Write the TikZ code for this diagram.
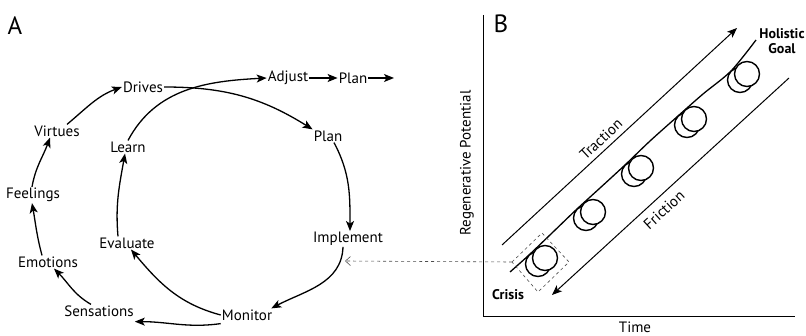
\documentclass[tikz,border=0pt]{standalone}
\usepackage{fontspec}
\setmainfont{PT Sans}
\usetikzlibrary{arrows.meta}
\begin{document}
\begin{tikzpicture}[x=1pt,y=-1pt,
  lbl/.style={font=\fontsize{15}{16}\selectfont, inner sep=1pt},
  blbl/.style={font=\fontsize{14}{15}\selectfont\bfseries, inner sep=1pt},
  big/.style={font=\fontsize{25}{26}\selectfont, inner sep=0pt},
  arr/.style={line width=1.3pt, -{Stealth[length=10pt,width=8pt,inset=2.5pt]}},
  thin/.style={line width=1pt},
  dsh/.style={line width=0.6pt, dash pattern=on 3pt off 3pt, draw=black!70},
  ball/.style={line width=1.4pt, fill=white}
]
\useasboundingbox (0,0) rectangle (806,336);

% ---------- Panel A ----------
\node[big] (A) at (15,26) {A};
\node[lbl] (drives) at (143,87) {Drives};
\node[lbl] (adjust) at (288,78) {Adjust};
\node[lbl] (plant) at (353,78) {Plan};
\coordinate (planend) at (394,78);
\node[lbl] (planr) at (328,136) {Plan};
\node[lbl] (impl) at (348,239) {Implement};
\node[lbl] (monitor) at (247,315) {Monitor};
\node[lbl] (sens) at (99,311) {Sensations};
\node[lbl] (emot) at (48,262) {Emotions};
\node[lbl] (feel) at (33,195) {Feelings};
\node[lbl] (virt) at (57,131) {Virtues};
\node[lbl] (learn) at (128,147) {Learn};
\node[lbl] (eval) at (127,243) {Evaluate};

\draw[arr] (drives.east) to[out=0,in=148] (planr.north west);
\draw[arr] (learn.north) to[out=62,in=183] (adjust.west);
\draw[arr] (adjust.east) -- (plant.west);
\draw[arr] (plant.east) -- (planend);
\draw[arr] ([xshift=6pt]planr.south) to[out=-62,in=90] ([xshift=2pt]impl.north);
\draw[arr] ([xshift=-5pt]impl.south) to[out=-92,in=28] ([xshift=-2pt]monitor.north east);
\draw[arr] (monitor.west) to[out=165,in=-50] ([xshift=4pt]eval.south);
\draw[arr] ([xshift=-9pt]eval.north) to[out=95,in=-100] ([xshift=-3pt]learn.south);
\draw[arr] ([yshift=-2pt]monitor.south west) to[out=188,in=0] ([yshift=-4pt]sens.south east);
\draw[arr] ([xshift=-8pt]sens.north) to[out=150,in=-45] ([xshift=6pt]emot.south);
\draw[arr] ([xshift=-6pt]emot.north) to[out=105,in=-80] ([xshift=-1pt]feel.south);
\draw[arr] ([xshift=-1pt]feel.north) to[out=80,in=-110] ([xshift=-7pt]virt.south);
\draw[arr] ([xshift=10pt]virt.north) to[out=40,in=200] (drives.west);

% ---------- Panel B ----------
\node[big] (B) at (501,24) {B};
\coordinate (ytop) at (483,15);
\coordinate (orig) at (483,317);
\coordinate (xend) at (795,317);
\draw[thin] (ytop) -- (orig) -- (xend);
\node[lbl, rotate=90] (ylab) at (467,163) {Regenerative Potential};
\node[lbl, inner sep=0pt] (time) at (635,327) {Time};
\node[blbl, align=center] (goal) at (782,41) {Holistic\\Goal};
\node[blbl] (crisis) at (508,295) {Crisis};

% traction and friction
\coordinate (tr0) at (502,245);
\coordinate (tr1) at (737,28);
\draw[line width=1pt, -{Stealth[length=10pt,width=8pt,inset=2.5pt]}] (tr0) -- (tr1);
\node[lbl, rotate=42.7] (traction) at (601,139) {Traction};
\coordinate (fr0) at (789,78);
\coordinate (fr1) at (552,295);
\draw[line width=1pt, -{Stealth[length=10pt,width=8pt,inset=2.5pt]}] (fr0) -- (fr1);
\node[lbl, rotate=42.5] (friction) at (664,210) {Friction};

% trajectory
\coordinate (p0) at (510,272);
\coordinate (p6) at (756,40);
\draw[line width=1.3pt] plot[smooth, tension=0.5] coordinates {(p0) (529,255) (552,233) (577,209) (600,188) (625,165) (650,141) (678,116) (703,94) (731,71) (p6)};

% balls
\foreach \i/\cx/\cy in {1/545/258, 2/593/212, 3/641/168, 4/694/119, 5/747/74}{
  \draw[ball] (\cx-7,\cy+6) circle[radius=12.5pt];
  \draw[ball] (\cx,\cy) circle[radius=12.5pt];
}

% crisis box and link
\coordinate (cbl) at (512,262);
\coordinate (cbt) at (542,233);
\coordinate (cbr) at (569,262);
\coordinate (cbb) at (538,292);
\draw[dsh] (cbl) -- (cbt) -- (cbr) -- (cbb) -- cycle;
\coordinate (dend) at (345,261);
\draw[dsh, -{Straight Barb[length=5pt,width=9pt]}] (cbl) -- (dend);
\end{tikzpicture}
\end{document}
